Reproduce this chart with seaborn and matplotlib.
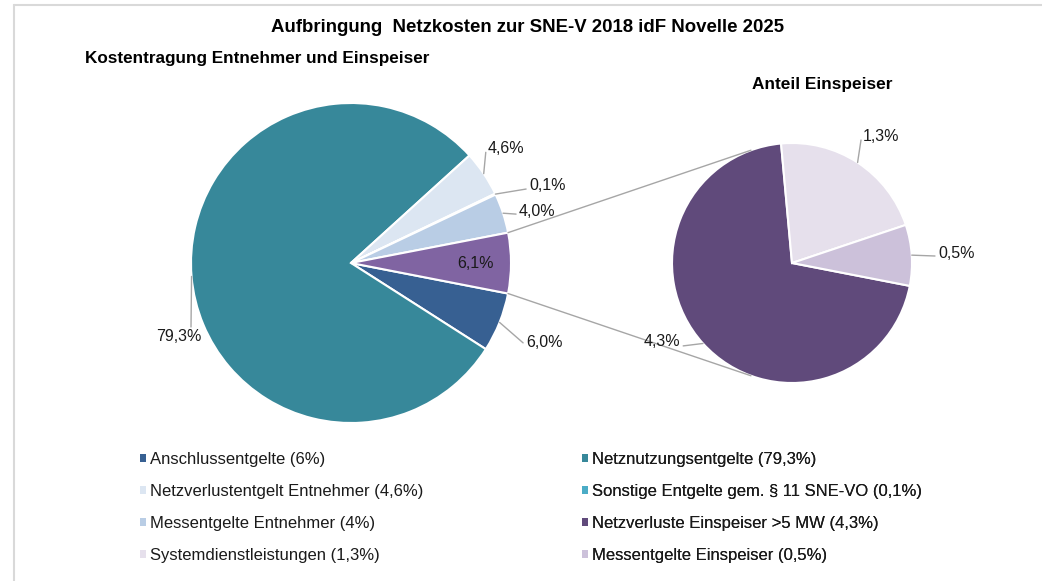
import numpy as np
import matplotlib
matplotlib.use("Agg")
import matplotlib.pyplot as plt
from matplotlib.patches import Patch
import seaborn as sns

# Data (percent of total grid costs)
main_labels = ["Anschlussentgelte", "Netznutzungsentgelte", "Netzverlustentgelt Entnehmer",
               "Sonstige Entgelte gem. § 11 SNE-VO", "Messentgelte Entnehmer"]
main_values = [6.0, 79.3, 4.6, 0.1, 4.0]
main_colors = ["#376092", "#37889a", "#dce6f2", "#4bacc6", "#b9cde5"]

sub_labels = ["Netzverluste Einspeiser >5 MW", "Systemdienstleistungen", "Messentgelte Einspeiser"]
sub_values = [4.3, 1.3, 0.5]
sub_colors = ["#604a7b", "#e6e0ec", "#ccc1da"]
other_color = "#8064a2"

legend_left = ["Anschlussentgelte", "Netzverlustentgelt Entnehmer", "Messentgelte Entnehmer",
               "Systemdienstleistungen"]
legend_right = ["Netznutzungsentgelte", "Sonstige Entgelte gem. § 11 SNE-VO",
                "Netzverluste Einspeiser >5 MW", "Messentgelte Einspeiser"]

sns.set_theme(style="white")
plt.rcParams["font.family"] = ["Liberation Sans", "DejaVu Sans"]

W, H = 1042, 581
fig = plt.figure(figsize=(W / 100, H / 100), dpi=100)
ax = fig.add_axes([0, 0, 1, 1])


def Y(y):
    return H - y


def de(v, fmt="{:.1f}"):
    return fmt.format(v).replace(".", ",")


# main pie + secondary pie
c1, r1 = (351, Y(263)), 160
c2, r2 = (792, Y(263)), 120
wp = dict(edgecolor="white", linewidth=1.5)

vals1 = main_values + [sum(sub_values)]
cols1 = main_colors + [other_color]
w1, _ = ax.pie(vals1, colors=cols1, startangle=-11, counterclock=False,
               center=c1, radius=r1, wedgeprops=wp)
w2, _ = ax.pie(sub_values, colors=sub_colors, startangle=-11, counterclock=False,
               center=c2, radius=r2, wedgeprops=wp)


def pt(c, r, ang):
    a = np.deg2rad(ang)
    return c[0] + r * np.cos(a), c[1] + r * np.sin(a)


# connector lines between the "Einspeiser" slice and the secondary pie
grey = "#a6a6a6"
other = w1[-1]
for a_main, a_sub in [(other.theta2, 110), (other.theta1, -110)]:
    p, q = pt(c1, r1, a_main), pt(c2, r2, a_sub)
    ax.plot([p[0], q[0]], [p[1], q[1]], color=grey, lw=1)

# data labels: (anchor angle, anchor radius factor, ha, dx, dy)
main_pos = [(-24.9, 1.186, "left", 3, 0),
            (201.8, 1.077, "center", -12, -10),
            (39.4, 1.09, "left", 2, 4),
            (22.9, 1.188, "left", 3, 4),
            (16.5, 1.076, "left", 3, 3)]
sub_pos = [(217.3, 1.14, "right", -3, 4),
           (60.7, 1.175, "left", 2, 4),
           (2.8, 1.193, "left", 3, 3)]

lbl_kw = dict(fontsize=11.5, color="#1a1a1a", va="center")


def put_labels(wedges, values, c, r, pos):
    for w, v, (ang, f, ha, dx, dy) in zip(wedges, values, pos):
        mid = (w.theta1 + w.theta2) / 2
        e = pt(c, r, mid)
        p = pt(c, r * f, ang)
        ax.plot([e[0], p[0]], [e[1], p[1]], color=grey, lw=1)
        ax.text(p[0] + dx, p[1] + dy, de(v) + "%", ha=ha, **lbl_kw)


put_labels(w1, main_values, c1, r1, main_pos)
put_labels(w2, sub_values, c2, r2, sub_pos)
mid = (other.theta1 + other.theta2) / 2
ip = pt(c1, r1 * 0.78, mid)
ax.text(ip[0], ip[1], de(vals1[-1]) + "%", ha="center", **lbl_kw)

# titles
ax.text(528, Y(27), "Aufbringung  Netzkosten zur SNE-V 2018 idF Novelle 2025",
        ha="center", va="center", fontsize=13.4, fontweight="bold", color="#000000")
ax.text(85, Y(58), "Kostentragung Entnehmer und Einspeiser",
        ha="left", va="center", fontsize=12.3, fontweight="bold", color="#000000")
ax.text(822, Y(84), "Anteil Einspeiser",
        ha="center", va="center", fontsize=12.4, fontweight="bold", color="#000000")

# legends (two columns)
all_labels = main_labels + sub_labels
all_values = main_values + sub_values
all_colors = main_colors + sub_colors


def make_handles(names):
    hs = []
    for n in names:
        i = all_labels.index(n)
        hs.append(Patch(facecolor=all_colors[i], edgecolor="none",
                        label=f"{n} ({de(all_values[i], '{:g}')}%)"))
    return hs


leg_kw = dict(frameon=False, fontsize=12, handlelength=0.38, handleheight=0.38,
              handletextpad=0.25, labelspacing=1.02, borderpad=0, borderaxespad=0,
              labelcolor="#1a1a1a")
for names, x0 in [(legend_left, 140), (legend_right, 582)]:
    leg = ax.legend(handles=make_handles(names), loc="upper left",
                    bbox_to_anchor=(x0 / W, 1 - 452 / H), **leg_kw)
    ax.add_artist(leg)

# thin frame lines (top / left)
ax.plot([13.5, W], [Y(4.5), Y(4.5)], color="#d9d9d9", lw=1.5)
ax.plot([13.5, 13.5], [Y(4.5), 0], color="#d9d9d9", lw=1.5)

ax.set_xlim(0, W)
ax.set_ylim(0, H)
ax.set_aspect("equal")
ax.axis("off")

fig.savefig("out.png", dpi=100)
